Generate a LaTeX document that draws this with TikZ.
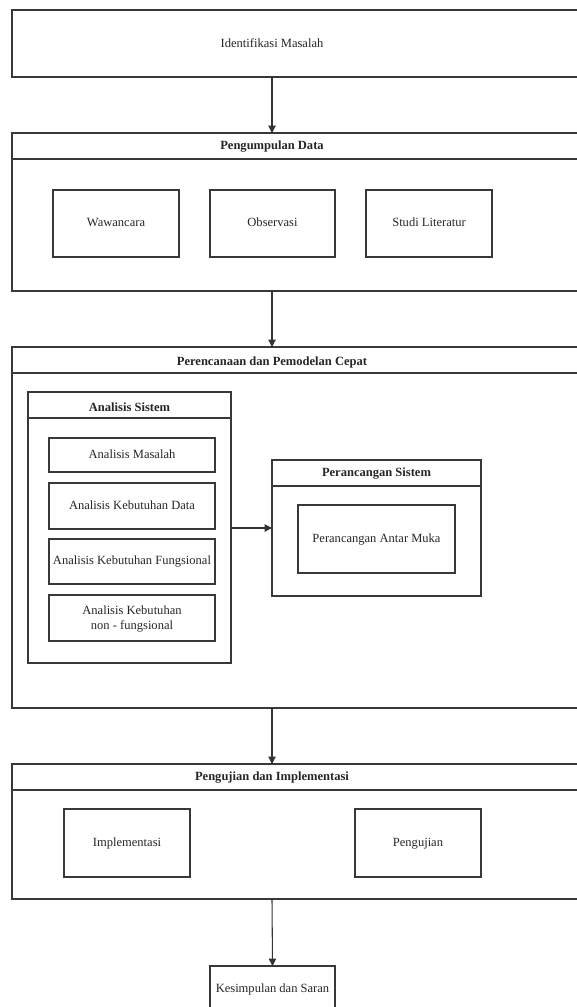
\documentclass[tikz,border=0pt]{standalone}
\usepackage{fontspec}
\setmainfont{Liberation Serif}
\usetikzlibrary{arrows.meta}
\newcommand{\mybx}[6]{\node[box,minimum width={(#4-#2)*0.75pt},minimum height={(#5-#3)*0.75pt}] (#1) at ({(#2+#4)/2},{(#3+#5)/2}) {\strut #6};}
\begin{document}
\begin{tikzpicture}[x=0.75pt,y=-0.75pt,
  box/.style={draw=black!78,line width=0.8pt,rectangle,inner sep=0pt,outer sep=0pt,align=center,
    font=\fontsize{9.4pt}{11.5pt}\selectfont,text=black!85},
  lbl/.style={font=\fontsize{9.4pt}{11.5pt}\selectfont,text=black!85,align=center,inner sep=0pt},
  ttl/.style={font=\fontsize{9.4pt}{11.5pt}\selectfont\bfseries,text=black!85,align=center,inner sep=0pt},
  hdr/.style={draw=black!78,line width=0.8pt},
  arr/.style={draw=black!80,line width=0.8pt,-{Triangle[length=5.5pt,width=5.5pt]}}]
\useasboundingbox (0,0) rectangle (577,1007);
\fill[white] (0,0) rectangle (577,1007);
\clip (0,0) rectangle (577,1007);

% Identifikasi Masalah
\mybx{id}{12}{10}{620}{77}{}
\node[lbl] (idt) at (272,43) {Identifikasi Masalah};

% Pengumpulan Data
\mybx{pd}{12}{133}{620}{291}{}
\draw[hdr] ([yshift=-19.5pt]pd.north west) -- ([yshift=-19.5pt]pd.north east);
\node[ttl] (pdt) at (272,147) {Pengumpulan Data};
\mybx{ww}{53}{190}{179}{257}{Wawancara}
\mybx{ob}{210}{190}{335}{257}{Observasi}
\mybx{sl}{366}{190}{492}{257}{Studi Literatur}

% Perencanaan dan Pemodelan Cepat
\mybx{pp}{12}{347}{620}{708}{}
\draw[hdr] ([yshift=-19.5pt]pp.north west) -- ([yshift=-19.5pt]pp.north east);
\node[ttl] (ppt) at (272,362) {Perencanaan dan Pemodelan Cepat};

\mybx{as}{28}{392}{231}{663}{}
\draw[hdr] ([yshift=-19.5pt]as.north west) -- ([yshift=-19.5pt]as.north east);
\node[ttl] (ast) at (129.5,407) {Analisis Sistem};
\mybx{am}{49}{438}{215}{472}{Analisis Masalah}
\mybx{akd}{49}{483}{215}{529}{Analisis Kebutuhan Data}
\mybx{akf}{49}{539}{215}{584}{Analisis Kebutuhan Fungsional}
\mybx{akn}{49}{595}{215}{641}{Analisis Kebutuhan\\non - fungsional}

\mybx{ps}{272}{460}{481}{596}{}
\draw[hdr] ([yshift=-19.5pt]ps.north west) -- ([yshift=-19.5pt]ps.north east);
\node[ttl] (pst) at (376.5,474) {Perancangan Sistem};
\mybx{pam}{298}{505}{455}{573}{Perancangan Antar Muka}

% Pengujian dan Implementasi
\mybx{pi}{12}{764}{620}{899}{}
\draw[hdr] ([yshift=-19.5pt]pi.north west) -- ([yshift=-19.5pt]pi.north east);
\node[ttl] (pit) at (272,778) {Pengujian dan Implementasi};
\mybx{im}{64}{809}{190}{877}{Implementasi}
\mybx{pg}{355}{809}{481}{877}{Pengujian}

% Kesimpulan dan Saran
\mybx{ks}{210}{966}{335}{1012}{Kesimpulan dan Saran}

% connectors
\draw[arr] (idt |- id.south) -- (idt |- pd.north);
\draw[arr] (pdt |- pd.south) -- (pdt |- pp.north);
\draw[arr] (ps.west -| as.east) -- (ps.west);
\draw[arr] (ppt |- pp.south) -- (ppt |- pi.north);
\draw[arr] (pit |- pi.south) -- (ks.north);
\end{tikzpicture}
\end{document}
